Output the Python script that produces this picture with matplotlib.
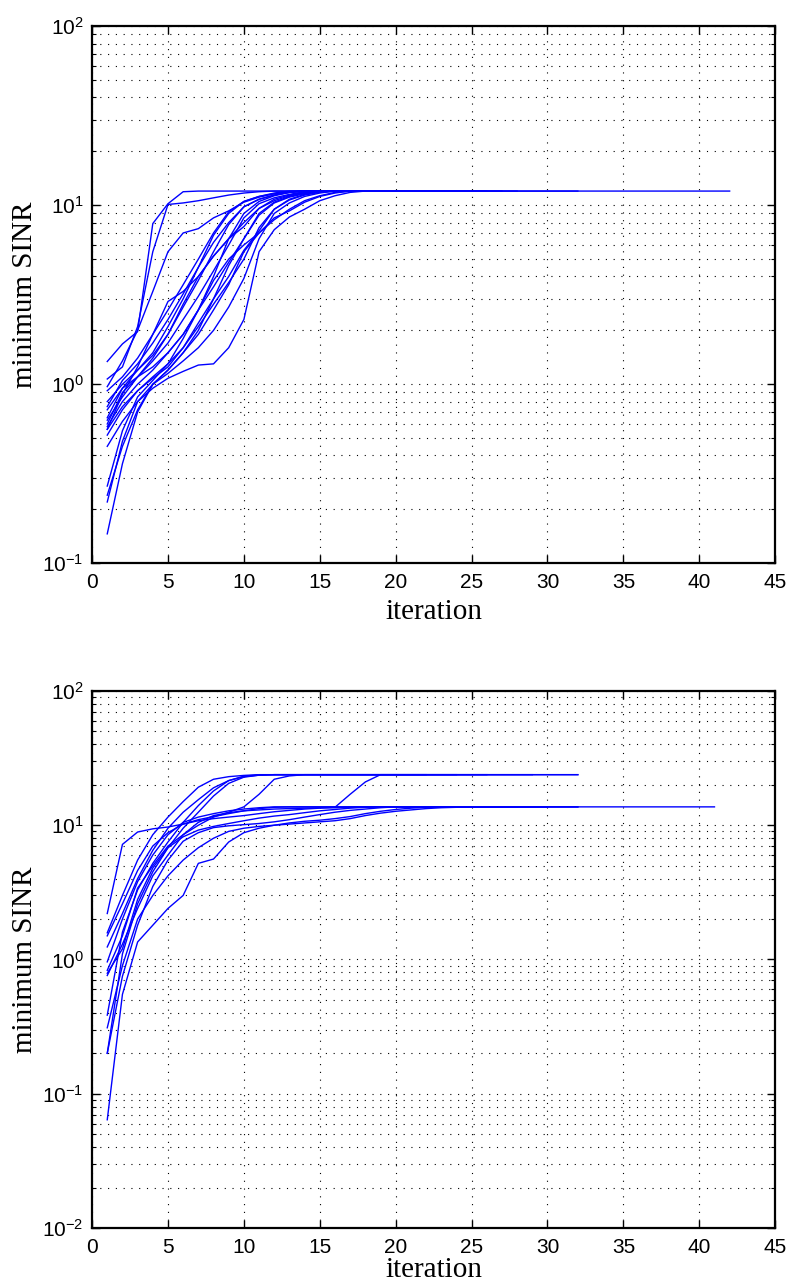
import matplotlib
matplotlib.use("Agg")
import matplotlib.pyplot as plt
from matplotlib.ticker import FixedLocator, FixedFormatter, LogLocator, NullFormatter

# ---------------- data ----------------
top_curves = [
    [1.34, 1.68, 1.97, 7.9, 10.2, 11.9, 12.0],
    [1.07, 1.25, 2.1, 5.5, 10.1, 10.3, 10.6, 11.0, 11.4, 11.7, 11.9, 12.0],
    [0.97, 1.35, 2.0, 3.3, 5.5, 7.0, 7.4, 8.5, 9.3, 10.4, 11.1, 11.6, 11.9, 12.0],
    [0.92, 1.1, 1.4, 1.9, 2.6, 3.6, 5.0, 7.0, 9.2, 10.5, 11.2, 11.6, 11.9, 12.0],
    [0.80, 1.0, 1.2, 1.45, 1.9, 2.7, 3.8, 5.5, 7.8, 9.8, 10.8, 11.4, 11.8, 12.0],
    [0.72, 0.95, 1.2, 1.5, 2.1, 3.0, 4.5, 6.8, 9.0, 10.5, 11.2, 11.7, 12.0],
    [0.63, 0.85, 1.1, 1.35, 1.7, 2.3, 3.1, 4.3, 6.0, 8.5, 10.2, 11.0, 11.5, 11.9, 12.0],
    [0.58, 0.80, 1.0, 1.2, 1.5, 1.9, 2.6, 3.5, 4.8, 6.5, 9.0, 10.4, 11.2, 11.7, 12.0],
    [0.56, 0.75, 0.92, 1.1, 1.3, 1.6, 2.1, 2.8, 3.7, 5.0, 7.5, 9.5, 10.7, 11.4, 11.8, 12.0],
    [0.52, 0.72, 0.92, 1.08, 1.25, 1.6, 2.2, 3.0, 4.0, 5.6, 7.2, 9.5, 10.8, 11.5, 11.9, 12.0],
    [0.45, 0.62, 0.80, 0.95, 1.08, 1.18, 1.28, 1.30, 1.6, 2.3, 5.5, 7.3, 8.6, 9.5, 10.6,
     11.3, 11.8, 12.0],
    [0.27, 0.55, 0.85, 1.05, 1.3, 1.8, 2.6, 4.0, 6.5, 9.0, 10.5, 11.3, 11.8, 12.0],
    [0.24, 0.45, 0.72, 1.0, 1.2, 1.5, 1.9, 2.6, 3.6, 5.5, 7.0, 8.5, 9.3, 10.4, 11.2, 11.7, 12.0],
    [0.22, 0.48, 0.80, 1.0, 1.2, 1.5, 2.0, 3.0, 4.6, 6.5, 8.8, 10.3, 11.1, 11.6, 12.0],
    [0.146, 0.36, 0.70, 1.0, 1.15, 1.35, 1.6, 2.0, 2.7, 3.9, 6.5, 9.0, 10.3, 11.2, 11.7, 12.0],
    [0.60, 0.90, 1.1, 1.4, 1.9, 2.8, 4.0, 5.2, 6.5, 8.0, 9.6, 10.6, 11.3, 11.7, 12.0],
    [0.65, 0.95, 1.1, 1.25, 1.5, 1.9, 2.6, 3.8, 5.0, 6.0, 7.0, 8.3, 9.5, 10.6, 11.3, 11.8, 12.0],
    [0.56, 0.88, 1.25, 1.9, 2.9, 3.3, 4.0, 5.2, 6.5, 7.6, 9.6, 10.8, 11.4, 11.8, 12.0],
    [0.75, 1.05, 1.3, 1.7, 2.3, 3.2, 4.5, 6.2, 8.0, 9.8, 10.8, 11.4, 11.8, 12.0],
]
top_last_iter = [20, 42, 22, 24, 21, 19, 26, 23, 25, 28, 27, 20, 24, 22, 32, 21, 26, 23, 20]

bottom_curves = [
    [1.58, 3.0, 5.5, 8.5, 11.5, 15.0, 19.2, 22.0, 23.0, 23.5, 23.8],
    [1.24, 2.2, 4.0, 6.5, 9.5, 12.5, 15.5, 19.0, 21.5, 23.0, 23.6, 23.8],
    [0.385, 1.6, 3.3, 5.2, 7.5, 10.5, 14.0, 18.0, 21.5, 23.2, 23.7, 23.8],
    [0.20, 1.1, 2.6, 4.5, 6.8, 9.5, 12.5, 16.5, 20.5, 22.8, 23.6, 23.8],
    [0.83, 1.5, 3.4, 5.0, 7.0, 8.5, 10.0, 11.5, 12.5, 13.7, 17.0, 22.0, 23.3, 23.8],
    [0.76, 1.3, 2.4, 4.2, 6.0, 8.5, 10.5, 11.8, 12.4, 12.8, 13.0, 13.2, 13.3, 13.4,
     13.5, 13.6, 17.0, 21.0, 23.8],
    [2.2, 7.2, 8.9, 9.4, 9.7, 10.2, 10.8, 11.2, 11.5, 11.8, 12.2, 12.6, 12.9, 13.2,
     13.4, 13.5, 13.6, 13.7],
    [0.96, 2.0, 3.8, 6.0, 8.5, 10.5, 11.5, 12.2, 12.8, 13.2, 13.5, 13.7],
    [0.79, 1.2, 2.8, 4.8, 6.8, 8.2, 9.2, 9.8, 10.3, 10.8, 11.3, 11.7, 12.0, 12.4,
     12.8, 13.1, 13.4, 13.6, 13.7],
    [0.31, 0.9, 2.0, 3.0, 4.2, 5.5, 6.8, 8.0, 9.0, 9.5, 9.8, 10.0, 10.2, 10.4,
     10.6, 10.8, 11.2, 11.8, 12.3, 12.7, 13.0, 13.3, 13.5, 13.6, 13.7],
    [0.064, 0.55, 1.35, 1.8, 2.4, 3.0, 5.2, 5.6, 7.5, 8.8, 9.5, 10.0, 10.4, 10.7,
     10.9, 11.2, 11.6, 12.2, 12.7, 13.1, 13.4, 13.6, 13.7],
    [0.20, 0.75, 1.8, 3.5, 5.5, 7.6, 8.8, 9.6, 9.9, 10.1, 10.3, 10.6, 11.0, 11.5,
     12.0, 12.5, 12.9, 13.2, 13.5, 13.7],
    [1.5, 2.6, 4.6, 7.0, 8.8, 10.2, 11.0, 11.6, 12.2, 12.8, 13.3, 13.6, 13.7],
]
bottom_last_iter = [32, 29, 24, 22, 26, 32, 41, 32, 30, 32, 28, 30, 27]

x_ticks = [0, 5, 10, 15, 20, 25, 30, 35, 40, 45]
top_yticks = [1e-1, 1e0, 1e1, 1e2]
top_ylabels = [r'$\mathregular{10^{-1}}$', r'$\mathregular{10^{0}}$',
               r'$\mathregular{10^{1}}$', r'$\mathregular{10^{2}}$']
bottom_yticks = [1e-2, 1e-1, 1e0, 1e1, 1e2]
bottom_ylabels = [r'$\mathregular{10^{-2}}$', r'$\mathregular{10^{-1}}$',
                  r'$\mathregular{10^{0}}$', r'$\mathregular{10^{1}}$',
                  r'$\mathregular{10^{2}}$']
x_label = "iteration"
y_label = "minimum SINR"

# ---------------- drawing ----------------
tick_font = ['Liberation Sans', 'DejaVu Sans']
label_font = ['Liberation Serif', 'DejaVu Serif']

fig = plt.figure(figsize=(7.87, 12.86), dpi=100)
ax_top = fig.add_axes([0.117, 0.562, 0.868, 0.4176])
ax_bot = fig.add_axes([0.117, 0.0451, 0.868, 0.4176])


def draw(ax, curves, last_iters, yticks, ylabels, ylim, xlabel_y):
    for vals, last in zip(curves, last_iters):
        full = vals + [vals[-1]] * (last - len(vals))
        xs = list(range(1, len(full) + 1))
        ax.plot(xs, full, color=(0, 0, 1), linewidth=1.0)
    ax.set_yscale('log')
    ax.set_xlim(0, 45)
    ax.set_ylim(*ylim)
    ax.xaxis.set_major_locator(FixedLocator(x_ticks))
    ax.set_xticklabels([str(t) for t in x_ticks], fontfamily=tick_font, fontsize=15)
    ax.yaxis.set_major_locator(FixedLocator(yticks))
    ax.yaxis.set_major_formatter(FixedFormatter(ylabels))
    ax.yaxis.set_minor_locator(LogLocator(base=10, subs=[2, 3, 4, 5, 6, 7, 8, 9]))
    ax.yaxis.set_minor_formatter(NullFormatter())
    for lab in ax.get_yticklabels():
        lab.set_fontfamily(tick_font)
        lab.set_fontsize(15)
    ax.tick_params(which='both', direction='in', top=True, right=True)
    ax.tick_params(which='major', length=6, width=1.0)
    ax.tick_params(axis='x', which='major', pad=7)
    ax.tick_params(axis='y', which='major', pad=6)
    ax.tick_params(which='minor', length=3, width=0.8)
    ax.grid(True, which='major', axis='both', linestyle=(0, (1, 6)), color='black', linewidth=0.8)
    ax.grid(True, which='minor', axis='y', linestyle=(0, (1, 6)), color='black', linewidth=0.8)
    for sp in ax.spines.values():
        sp.set_linewidth(1.6)
    ax.set_xlabel(x_label, fontfamily=label_font, fontsize=21)
    ax.set_ylabel(y_label, fontfamily=label_font, fontsize=21)
    ax.xaxis.set_label_coords(0.5, xlabel_y)
    ax.yaxis.set_label_coords(-0.079, 0.5)


draw(ax_top, top_curves, top_last_iter, top_yticks, top_ylabels, (1e-1, 1e2), -0.066)
draw(ax_bot, bottom_curves, bottom_last_iter, bottom_yticks, bottom_ylabels, (1e-2, 1e2), -0.054)

fig.savefig("out.png", dpi=100)
